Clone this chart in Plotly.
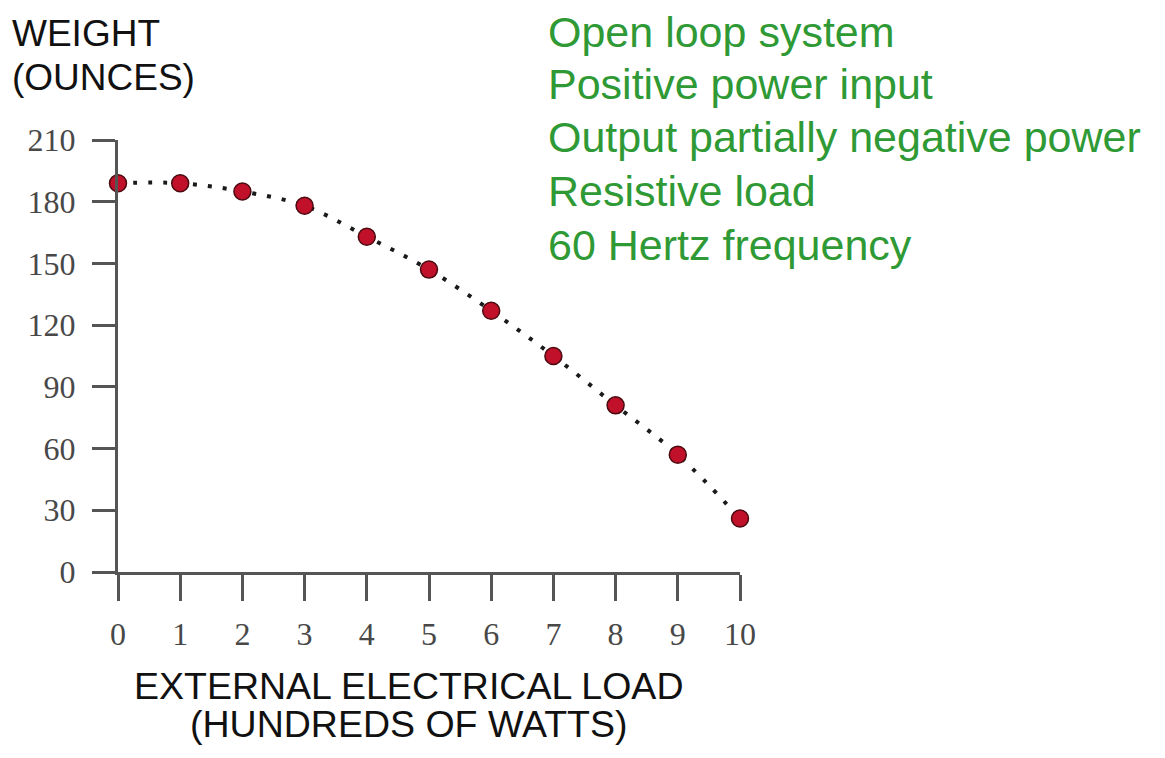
import plotly.graph_objects as go

load_hundreds_watts = [0, 1, 2, 3, 4, 5, 6, 7, 8, 9, 10]
weight_ounces = [189, 189, 185, 178, 163, 147, 127, 105, 81, 57, 26]
y_ticks = [0, 30, 60, 90, 120, 150, 180, 210]
x_ticks = [0, 1, 2, 3, 4, 5, 6, 7, 8, 9, 10]
notes = ["Open loop system", "Positive power input", "Output partially negative power",
         "Resistive load", "60 Hertz frequency"]

OFF = 8  # default page body margin
W, H = 1165 - 2 * OFF, 758 - 2 * OFF
L, R, T, B = 118 - OFF, 740 - OFF, 140 - OFF, 572 - OFF  # plot area in figure pixels


def px(xp):
    return (xp - OFF - L) / (R - L)


def py(yp):
    return (B - (yp - OFF)) / (B - T)


fig = go.Figure()
fig.add_trace(go.Scatter(
    x=load_hundreds_watts, y=weight_ounces, mode="lines",
    line=dict(color="#1a1a1a", width=4, dash="4px,11px", shape="spline", smoothing=1.0),
    hoverinfo="skip", showlegend=False, cliponaxis=False))
fig.add_trace(go.Scatter(
    x=load_hundreds_watts, y=weight_ounces, mode="markers",
    marker=dict(size=17, color="#c0102a", line=dict(color="#4a0a10", width=1.5)),
    showlegend=False, cliponaxis=False))

tick_font = dict(family="Liberation Serif, Times New Roman, serif", size=32, color="#484848")
fig.update_xaxes(range=[0, 10], tickvals=x_ticks, showgrid=False, zeroline=False,
                 showline=True, linecolor="#555555", linewidth=3,
                 ticks="outside", ticklen=26, tickwidth=2.5, tickcolor="#555555",
                 tickfont=tick_font, ticklabelstandoff=6, fixedrange=True)
fig.update_yaxes(range=[0, 210], tickvals=y_ticks, showgrid=False, zeroline=False,
                 showline=True, linecolor="#555555", linewidth=3,
                 ticks="outside", ticklen=23, tickwidth=2.5, tickcolor="#555555",
                 tickfont=tick_font, ticklabelstandoff=10, fixedrange=True)

sans = "Liberation Sans, Arial, sans-serif"
annotations = []
for text, yp in [("WEIGHT", 33), ("(OUNCES)", 77)]:
    annotations.append(dict(text=text, x=px(10), y=py(yp), xref="paper", yref="paper",
                            xanchor="left", yanchor="middle", showarrow=False,
                            font=dict(family=sans, size=37, color="#111111")))
for text, yp in [("EXTERNAL ELECTRICAL LOAD", 686), ("(HUNDREDS OF WATTS)", 724)]:
    annotations.append(dict(text=text, x=px(408), y=py(yp), xref="paper", yref="paper",
                            xanchor="center", yanchor="middle", showarrow=False,
                            font=dict(family=sans, size=37.5, color="#111111")))
for text, yp in zip(notes, [32, 84, 137, 191, 245]):
    annotations.append(dict(text=text, x=px(546), y=py(yp), xref="paper", yref="paper",
                            xanchor="left", yanchor="middle", showarrow=False,
                            font=dict(family=sans, size=43, color="#2f9a35")))

fig.update_layout(
    width=W, height=H, autosize=False,
    margin=dict(l=L, r=W - R, t=T, b=H - B, pad=0),
    paper_bgcolor="#ffffff", plot_bgcolor="#ffffff",
    annotations=annotations, showlegend=False)

fig.write_html("out.html", config={"displayModeBar": False})
